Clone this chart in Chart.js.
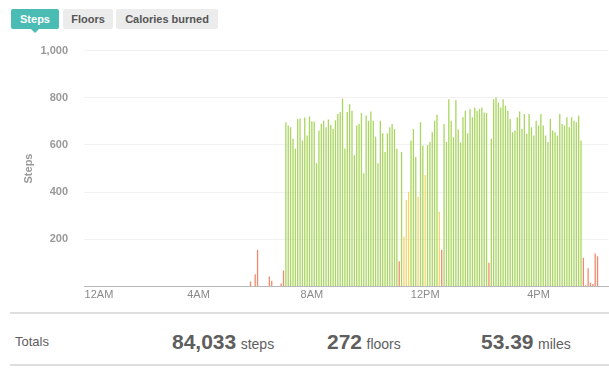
<!DOCTYPE html>
<html>
<head>
<meta charset="utf-8">
<script src="https://cdn.jsdelivr.net/npm/chart.js@4"></script>
<style>
  body { margin: 0; background: #fff; font-family: Arial, "Liberation Sans", sans-serif; }
  #page { position: relative; width: 609px; height: 389px; overflow: hidden; }
  .tab { position: absolute; top: 9px; height: 20px; line-height: 20px; font-size: 11px; font-weight: bold;
         text-align: center; border-radius: 2px; background: #ececec; color: #555; }
  .tab.on { background: #4bbcb4; color: #fff; }
  .tab.on:after { content: ''; position: absolute; left: 50%; bottom: -4px; margin-left: -4px;
                  border-left: 4px solid transparent; border-right: 4px solid transparent; border-top: 4px solid #4bbcb4; }
  #chartBox { position: absolute; left: 0; top: 28px; width: 609px; height: 281px; }
  .rule { position: absolute; left: 10px; width: 599px; height: 2px; background: #dedede; }
  .tot { position: absolute; top: 328px; height: 28px; line-height: 28px; color: #5e5e5e; white-space: nowrap; }
  .tot b { font-size: 21px; }
  .tot span { font-size: 14px; }
</style>
</head>
<body>
<div id="page">
  <div class="tab on" style="left:11px;width:48px;">Steps</div>
  <div class="tab" style="left:63px;width:50px;">Floors</div>
  <div class="tab" style="left:116px;width:102px;">Calories burned</div>

  <div id="chartBox"><canvas id="stepsChart"></canvas></div>

  <div class="rule" style="top:312px;"></div>
  <div class="tot" style="left:15px;font-size:13px;">Totals</div>
  <div class="tot" style="left:172px;"><b>84,033</b> <span>steps</span></div>
  <div class="tot" style="left:327px;"><b>272</b> <span>floors</span></div>
  <div class="tot" style="left:481px;"><b>53.39</b> <span>miles</span></div>
  <div class="rule" style="top:364px;"></div>
</div>

<script>
// steps per 5 minutes, starting at 12AM
const steps = [
  0,0,0,0,0,0,0,0,0,0, 0,0,0,0,0,0,0,0,0,0,
  0,0,0,0,0,0,0,0,0,0, 0,0,0,0,0,0,0,0,0,0,
  0,0,0,0,0,0,0,0,0,0, 0,0,0,0,0,0,0,0,0,0,
  0,0,0,0,0,0,0,0,0,0,
  21,0,52,155,0,0,0,0,42,24, 0,0,0,12,67,
  696,682,675,626,584,710,712,619,716,640,
  720,700,698,522,661,690,703,675,708,685,
  668,705,731,740,796,585,740,773,745,556,
  682,689,735,480,725,703,742,703,635,522,
  703,650,570,650,675,689,668,584,107,570,
  212,366,401,619,668,549,380,696,598,472,
  600,612,654,703,728,317,155,689,612,794,
  703,633,790,665,610,717,745,650,752,717,
  759,745,752,759,738,735,100,626,794,801,
  780,759,794,766,745,710,654,661,717,742,
  668,731,647,731,675,640,703,682,731,682,
  640,612,710,661,654,640,731,689,682,717,
  675,717,703,696,724,619,
  121,5,77,15,10,140,128
];

const slotCount = 222;     // 5 minute slots visible in the picture
const tickLabels = ['12AM', '4AM', '8AM', '12PM', '4PM'];
const tickEvery = 48;
const yTicks = [200, 400, 600, 800, 1000];

const slots = [];
for (let i = 0; i < slotCount; i++) {
  const h = Math.floor(i / 12), m = (i % 12) * 5;
  const hh = h % 12 === 0 ? 12 : h % 12;
  slots.push(hh + ':' + String(m).padStart(2, '0') + (h < 12 ? ' AM' : ' PM'));
}

// colour by activity level
function barColor(v) {
  if (v < 200) return '#f08a6c';
  if (v < 475) return '#f6d56c';
  return '#a9d65f';
}

Chart.defaults.font.family = 'Arial, "Liberation Sans", sans-serif';

const ctx = document.getElementById('stepsChart').getContext('2d');
new Chart(ctx, {
  type: 'bar',
  data: {
    labels: slots,
    datasets: [{
      label: 'Steps',
      data: steps,
      backgroundColor: steps.map(barColor),
      barPercentage: 0.55,
      categoryPercentage: 1.0
    }]
  },
  options: {
    responsive: true,
    maintainAspectRatio: false,
    animation: false,
    layout: { padding: { top: 10, right: 0, left: 0, bottom: 0 } },
    plugins: { legend: { display: false }, tooltip: { enabled: false } },
    scales: {
      x: {
        grid: { display: false, drawTicks: false },
        border: { color: '#b8b8b8' },
        ticks: {
          autoSkip: false,
          maxRotation: 0,
          padding: 2,
          color: '#8a8a8a',
          font: { size: 11 },
          callback: function(v, i) {
            if (i % tickEvery !== 0) return '';
            const t = tickLabels[i / tickEvery];
            return i === 0 ? '         ' + t : t;   // first label sits right of the axis start
          }
        }
      },
      y: {
        min: 0,
        max: 1000,
        afterBuildTicks: function(scale) {
          scale.ticks = [0].concat(yTicks).map(v => ({ value: v }));
        },
        grid: { color: '#f1f1f1', drawTicks: false },
        border: { display: false },
        ticks: {
          padding: 16,
          color: '#999',
          font: { size: 11, weight: 'bold' },
          callback: v => v === 0 ? '' : v.toLocaleString('en-US')
        },
        title: {
          display: true,
          text: 'Steps',
          color: '#999',
          font: { size: 11, weight: 'bold' },
          padding: { top: 22, bottom: 0 }
        },
        afterFit: function(scale) { scale.width = 84; }
      }
    }
  }
});
</script>
</body>
</html>
